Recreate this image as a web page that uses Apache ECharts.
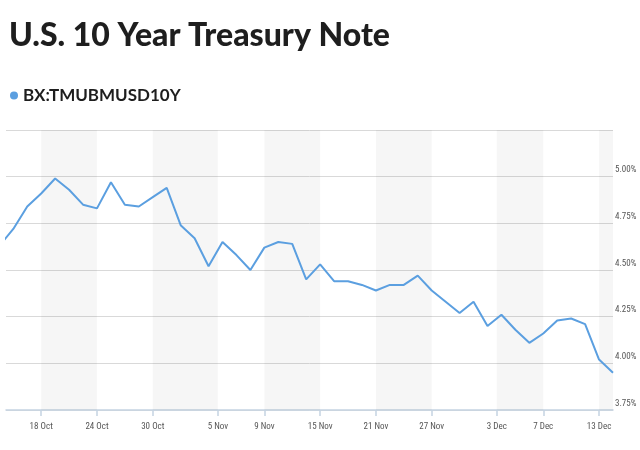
<!DOCTYPE html>
<html>
<head>
<meta charset="utf-8">
<script src="https://cdn.jsdelivr.net/npm/echarts@6/dist/echarts.min.js"></script>
<style>
html,body{margin:0;padding:0;background:#fff;}
#chart{width:640px;height:450px;}
</style>
</head>
<body>
<div id="chart"></div>
<script>
// Trading dates (first point is partly clipped at the left edge)
const dates = [
  '2023-10-13','2023-10-16','2023-10-17','2023-10-18','2023-10-19','2023-10-20',
  '2023-10-23','2023-10-24','2023-10-25','2023-10-26','2023-10-27',
  '2023-10-30','2023-10-31','2023-11-01','2023-11-02','2023-11-03',
  '2023-11-06','2023-11-07','2023-11-08','2023-11-09','2023-11-10',
  '2023-11-13','2023-11-14','2023-11-15','2023-11-16','2023-11-17',
  '2023-11-20','2023-11-21','2023-11-22','2023-11-23','2023-11-24',
  '2023-11-27','2023-11-28','2023-11-29','2023-11-30','2023-12-01',
  '2023-12-04','2023-12-05','2023-12-06','2023-12-07','2023-12-08',
  '2023-12-11','2023-12-12','2023-12-13','2023-12-14'
];
// Yield, percent
const yields = [
  4.63, 4.72, 4.84, 4.91, 4.99, 4.93,
  4.85, 4.83, 4.97, 4.85, 4.84,
  4.89, 4.94, 4.74, 4.67, 4.52,
  4.65, 4.58, 4.50, 4.62, 4.65,
  4.64, 4.45, 4.53, 4.44, 4.44,
  4.42, 4.39, 4.42, 4.42, 4.47,
  4.39, 4.33, 4.27, 4.33, 4.20,
  4.26, 4.18, 4.11, 4.16, 4.23,
  4.24, 4.21, 4.02, 3.95
];
const tickDates = ['2023-10-18','2023-10-24','2023-10-30','2023-11-05','2023-11-09',
  '2023-11-15','2023-11-21','2023-11-27','2023-12-03','2023-12-07','2023-12-13'];
const tickLabels = ['18 Oct','24 Oct','30 Oct','5 Nov','9 Nov','15 Nov','21 Nov',
  '27 Nov','3 Dec','7 Dec','13 Dec'];
const seriesName = 'BX:TMUBMUSD10Y';
const titleText = 'U.S. 10 Year Treasury Note';

// ordinal position of a calendar date (interpolated between trading days)
const times = dates.map(d => Date.parse(d + 'T00:00:00Z'));
function ordinalPos(d) {
  const t = Date.parse(d + 'T00:00:00Z');
  for (let i = 0; i < times.length - 1; i++) {
    if (t >= times[i] && t <= times[i + 1]) {
      return i + (t - times[i]) / (times[i + 1] - times[i]);
    }
  }
  return times.length - 1;
}
const tickPos = tickDates.map(ordinalPos);
const xMin = 0.476, xMax = dates.length - 1;

const bands = [];
for (let i = 0; i < tickPos.length; i += 2) {
  bands.push([{ xAxis: tickPos[i] }, { xAxis: i + 1 < tickPos.length ? tickPos[i + 1] : xMax }]);
}

const smallFont = 'Liberation Sans Narrow, Roboto Condensed, Open Sans Condensed, DejaVu Sans Condensed, sans-serif';

const chart = echarts.init(document.getElementById('chart'), null, { renderer: 'canvas' });
chart.setOption({
  animation: false,
  backgroundColor: '#ffffff',
  title: {
    text: titleText,
    left: 4, top: 15, padding: 5,
    textStyle: { fontFamily: 'Lato', fontWeight: 900, fontSize: 32, color: '#1e1e1e' }
  },
  legend: {
    left: 10, top: 87, padding: 0,
    icon: 'circle', itemWidth: 8, itemHeight: 8, itemGap: 6,
    textStyle: { fontFamily: 'Lato', fontWeight: 'bold', fontSize: 17, color: '#1e1e1e' },
    data: [seriesName]
  },
  grid: { left: 6, right: 27, top: 130, bottom: 40, containLabel: false, outerBoundsMode: 'none' },
  xAxis: {
    type: 'value', min: xMin, max: xMax,
    splitLine: { show: false },
    axisLine: { show: true, lineStyle: { color: '#c5d3e2', width: 1.5 } },
    axisTick: { show: true, customValues: tickPos, length: 6, lineStyle: { color: '#c5d3e2', width: 1.5 } },
    axisLabel: {
      customValues: tickPos, margin: 12,
      fontFamily: smallFont,
      fontSize: 9, color: '#555',
      formatter: v => {
        let best = 0;
        tickPos.forEach((p, i) => { if (Math.abs(p - v) < Math.abs(tickPos[best] - v)) best = i; });
        return tickLabels[best];
      }
    }
  },
  yAxis: {
    type: 'value', position: 'right', min: 3.75, max: 5.25, interval: 0.25,
    axisLine: { show: false }, axisTick: { show: false },
    splitLine: { show: true, lineStyle: { color: '#d9d9d9', width: 1 } },
    axisLabel: {
      margin: 2, align: 'left', verticalAlign: 'bottom',
      fontFamily: smallFont,
      fontSize: 9, color: '#555', padding: [0,0,2,0],
      formatter: v => (Math.abs(v - 5.25) < 1e-6 ? '' : v.toFixed(2) + '%')
    }
  },
  series: [{
    name: seriesName, type: 'line',
    data: yields.map((v, i) => [i, v]),
    showSymbol: false, clip: true,
    lineStyle: { color: '#5b9fe0', width: 2 },
    itemStyle: { color: '#5b9fe0' },
    markArea: { silent: true, itemStyle: { color: 'rgba(0,0,0,0.035)' }, data: bands }
  }]
});
</script>
</body>
</html>
